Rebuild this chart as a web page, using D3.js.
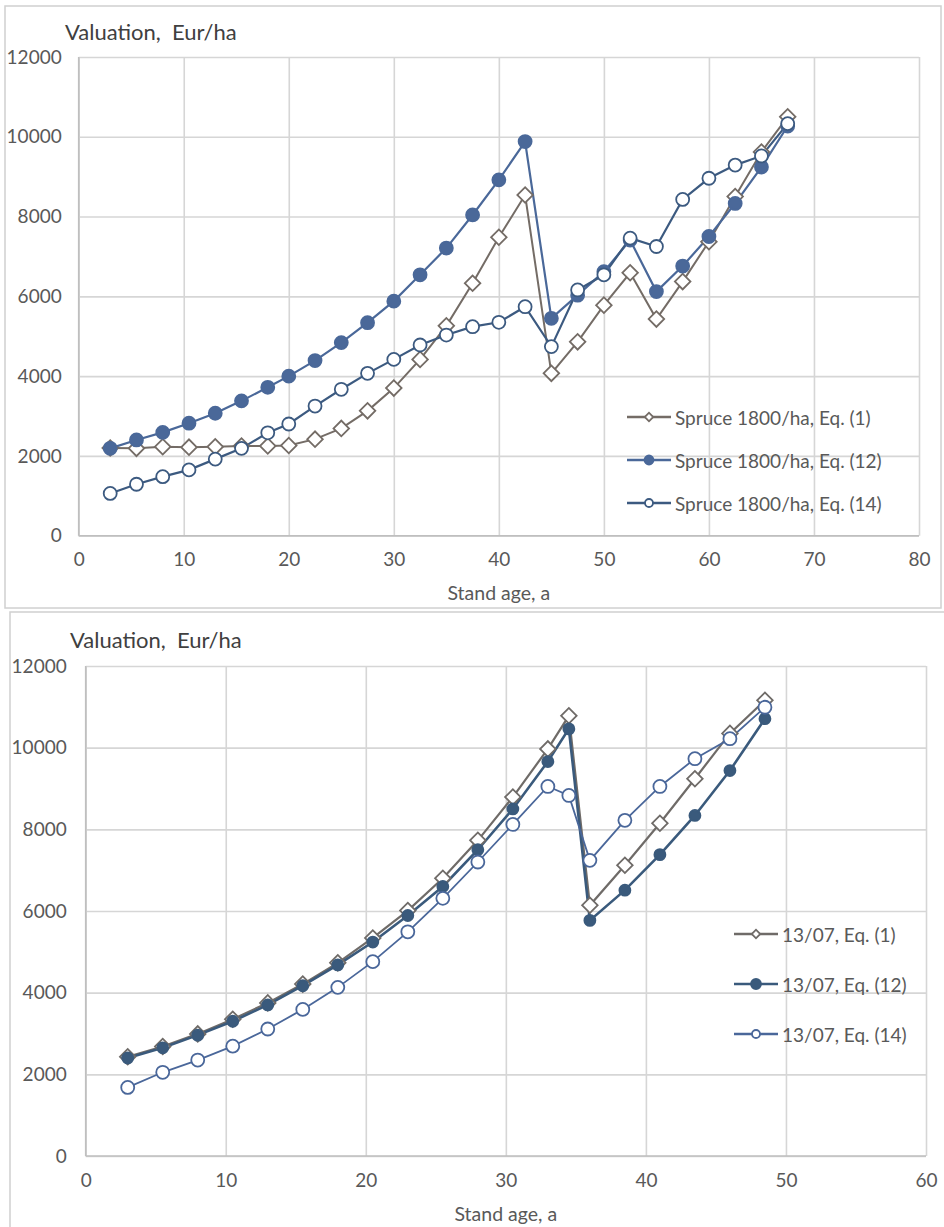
<!DOCTYPE html>
<html>
<head>
<meta charset="utf-8">
<script src="https://cdn.jsdelivr.net/npm/d3@7/dist/d3.min.js"></script>
<style>
  body { margin: 0; background: #fff; }
  svg { display: block; font-family: Lato, "Open Sans", sans-serif; }
</style>
</head>
<body>
<svg id="chart" width="944" height="1227"></svg>
<script>
// ---- data: top panel (Spruce 1800/ha)
const topAge = [3, 5.5, 8, 10.5, 13, 15.5, 18, 20, 22.5, 25, 27.5, 30, 32.5, 35, 37.5, 40, 42.5, 45, 47.5, 50, 52.5, 55, 57.5, 60, 62.5, 65, 67.5];
const topEq1 = [2200, 2190, 2230, 2220, 2230, 2250, 2250, 2260, 2420, 2690, 3130, 3700, 4420, 5260, 6330, 7480, 8540, 4070, 4860, 5780, 6590, 5430, 6370, 7370, 8500, 9620, 10500];
const topEq12 = [2190, 2400, 2590, 2820, 3070, 3380, 3720, 4000, 4390, 4840, 5340, 5880, 6540, 7210, 8040, 8920, 9880, 5450, 6030, 6620, 7410, 6120, 6760, 7500, 8330, 9240, 10270];
const topEq14 = [1060, 1290, 1480, 1650, 1920, 2190, 2580, 2800, 3250, 3670, 4070, 4420, 4780, 5030, 5240, 5350, 5740, 4740, 6160, 6540, 7460, 7250, 8430, 8960, 9290, 9520, 10330];
const topNames = ["Spruce 1800/ha, Eq. (1)", "Spruce 1800/ha, Eq. (12)", "Spruce 1800/ha, Eq. (14)"];
const topXTicks = [0, 10, 20, 30, 40, 50, 60, 70, 80];

// ---- data: bottom panel (13/07)
const botAge = [3, 5.5, 8, 10.5, 13, 15.5, 18, 20.5, 23, 25.5, 28, 30.5, 33, 34.5, 36, 38.5, 41, 43.5, 46, 48.5];
const botEq1 = [2430, 2680, 2990, 3350, 3750, 4210, 4730, 5340, 6010, 6800, 7730, 8790, 9970, 10780, 6140, 7120, 8150, 9240, 10350, 11160];
const botEq12 = [2400, 2650, 2960, 3300, 3700, 4170, 4680, 5240, 5890, 6600, 7500, 8500, 9660, 10460, 5770, 6510, 7380, 8340, 9440, 10710];
const botEq14 = [1680, 2050, 2350, 2690, 3110, 3590, 4130, 4760, 5490, 6310, 7200, 8120, 9050, 8830, 7240, 8220, 9050, 9730, 10220, 10990];
const botNames = ["13/07, Eq. (1)", "13/07, Eq. (12)", "13/07, Eq. (14)"];
const botXTicks = [0, 10, 20, 30, 40, 50, 60];

const yTicks = [0, 2000, 4000, 6000, 8000, 10000, 12000];

const svg = d3.select('#chart');

function drawPanel(p) {
  const g = svg.append('g');

  // outer frame
  g.append('rect')
    .attr('x', p.frame[0]).attr('y', p.frame[1])
    .attr('width', p.frame[2]).attr('height', p.frame[3])
    .attr('fill', '#fff').attr('stroke', '#d0d0d0').attr('stroke-width', 1.5);

  const x = d3.scaleLinear().domain([0, p.xMax]).range([p.left, p.right]);
  const y = d3.scaleLinear().domain([0, 12000]).range([p.bottom, p.top]);

  // grid
  g.append('g')
    .attr('transform', `translate(0,${p.bottom})`)
    .call(d3.axisBottom(x).tickValues(p.xTicks).tickSize(-(p.bottom - p.top)).tickFormat(''))
    .call(a => a.select('.domain').remove())
    .selectAll('line').attr('stroke', '#d6d6d6').attr('stroke-width', 1.6);
  g.append('g')
    .attr('transform', `translate(${p.left},0)`)
    .call(d3.axisLeft(y).tickValues(yTicks).tickSize(-(p.right - p.left)).tickFormat(''))
    .call(a => a.select('.domain').remove())
    .selectAll('line').attr('stroke', '#d6d6d6').attr('stroke-width', 1.6);

  // axis lines
  g.append('line').attr('x1', p.left).attr('x2', p.left).attr('y1', p.top).attr('y2', p.bottom)
    .attr('stroke', '#bfbfbf').attr('stroke-width', 1.6);
  g.append('line').attr('x1', p.left).attr('x2', p.right).attr('y1', p.bottom).attr('y2', p.bottom)
    .attr('stroke', '#bfbfbf').attr('stroke-width', 1.6);

  // tick labels
  const xa = g.append('g')
    .attr('transform', `translate(0,${p.bottom})`)
    .call(d3.axisBottom(x).tickValues(p.xTicks).tickSize(0).tickPadding(p.xPad));
  xa.select('.domain').remove();
  xa.selectAll('text').attr('fill', '#595959').style('font-size', '19px').style('font-family', 'Lato, sans-serif');

  const ya = g.append('g')
    .attr('transform', `translate(${p.left},0)`)
    .call(d3.axisLeft(y).tickValues(yTicks).tickSize(0).tickPadding(p.yPad).tickFormat(d3.format('d')));
  ya.select('.domain').remove();
  ya.selectAll('text').attr('fill', '#595959').style('font-size', '19px').style('font-family', 'Lato, sans-serif');

  // titles
  g.append('text').attr('x', p.titleX).attr('y', p.titleY)
    .attr('dominant-baseline', 'central')
    .attr('fill', '#404040').style('font-size', '22px')
    .text('Valuation,\u00a0 Eur/ha');
  g.append('text').attr('x', (p.left + p.right) / 2).attr('y', p.xTitleY)
    .attr('text-anchor', 'middle').attr('dominant-baseline', 'central')
    .attr('fill', '#595959').style('font-size', '19.5px')
    .text('Stand age, a');

  const line = d3.line().x(d => x(d[0])).y(d => y(d[1]));

  p.series.forEach(s => {
    const pts = p.age.map((a, i) => [a, s.values[i]]);
    g.append('path').datum(pts)
      .attr('d', line).attr('fill', 'none')
      .attr('stroke', s.color).attr('stroke-width', s.width);
  });

  // markers drawn after all lines
  p.series.forEach(s => {
    const pts = p.age.map((a, i) => [a, s.values[i]]);
    drawMarkers(g, pts.map(d => [x(d[0]), y(d[1])]), s, s.size);
  });

  // legend
  p.series.forEach((s, i) => {
    const ly = p.legY + i * p.legGap;
    g.append('line').attr('x1', p.legX).attr('x2', p.legX + 44).attr('y1', ly).attr('y2', ly)
      .attr('stroke', s.color).attr('stroke-width', 2.5);
    drawMarkers(g, [[p.legX + 22, ly]], s, s.legSize);
    g.append('text').attr('x', p.legX + 48).attr('y', ly)
      .attr('dominant-baseline', 'central')
      .attr('fill', '#595959').style('font-size', '19px')
      .text(s.name);
  });
}

function drawMarkers(g, pts, s, size) {
  if (s.marker === 'diamond') {
    g.selectAll(null).data(pts).enter().append('path')
      .attr('d', d3.symbol(d3.symbolSquare, size * size))
      .attr('transform', d => `translate(${d[0]},${d[1]}) rotate(45)`)
      .attr('fill', s.fill).attr('stroke', s.color).attr('stroke-width', 1.8);
  } else {
    g.selectAll(null).data(pts).enter().append('circle')
      .attr('cx', d => d[0]).attr('cy', d => d[1]).attr('r', size / 2)
      .attr('fill', s.fill).attr('stroke', s.color).attr('stroke-width', 1.8);
  }
}

drawPanel({
  frame: [5, 6, 936, 602],
  left: 78.7, right: 919, top: 57, bottom: 535.7, xMax: 80, xTicks: topXTicks,
  xPad: 17, yPad: 17,
  titleX: 65, titleY: 31, xTitleY: 592,
  legX: 627, legY: 417, legGap: 43,
  age: topAge,
  series: [
    { name: topNames[0], values: topEq1, color: '#746c66', fill: '#fff', marker: 'diamond', width: 2, size: 11, legSize: 6 },
    { name: topNames[1], values: topEq12, color: '#4a6899', fill: '#4a6899', marker: 'circle', width: 2.2, size: 13, legSize: 9 },
    { name: topNames[2], values: topEq14, color: '#3c5a80', fill: '#fff', marker: 'circle', width: 2.2, size: 13, legSize: 8 }
  ]
});

drawPanel({
  frame: [10, 612, 940, 620],
  left: 85.7, right: 926, top: 666, bottom: 1156, xMax: 60, xTicks: botXTicks,
  xPad: 18, yPad: 19,
  titleX: 70, titleY: 639, xTitleY: 1213,
  legX: 734, legY: 934, legGap: 50,
  age: botAge,
  series: [
    { name: botNames[0], values: botEq1, color: '#6f6b68', fill: '#fff', marker: 'diamond', width: 2.2, size: 11, legSize: 6 },
    { name: botNames[1], values: botEq12, color: '#3a5a7c', fill: '#3a5a7c', marker: 'circle', width: 2.6, size: 11, legSize: 10 },
    { name: botNames[2], values: botEq14, color: '#4a679a', fill: '#fff', marker: 'circle', width: 1.8, size: 13, legSize: 8 }
  ]
});
</script>
</body>
</html>
